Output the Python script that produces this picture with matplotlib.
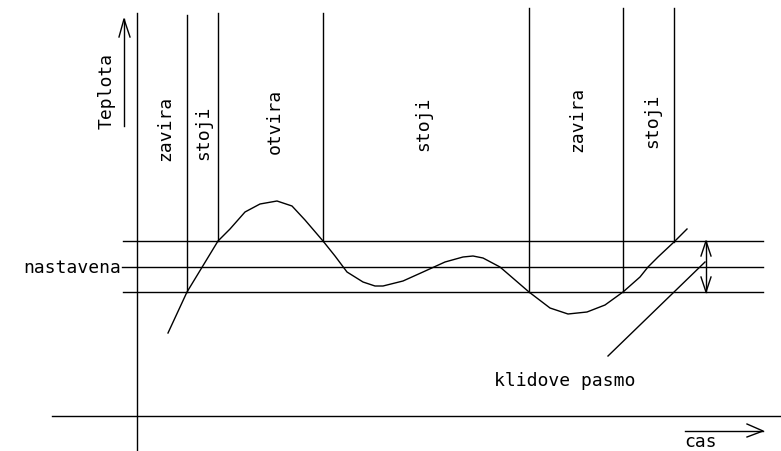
import matplotlib
matplotlib.use("Agg")
import matplotlib.pyplot as plt

# průběh teploty (souřadnice v obrázku, px)
curve_x = [168, 187, 218, 230, 245, 260, 277, 292, 305, 323, 335, 347, 363, 375,
           383, 403, 423, 445, 463, 473, 483, 500, 529, 550, 568, 587, 605, 623,
           640, 648, 658, 674, 687]
curve_y = [334, 293, 242, 230, 213, 205, 202, 207, 221, 242, 257, 273, 283, 287,
           287, 282, 273, 263, 258, 257, 259, 268, 293, 309, 315, 313, 306, 293,
           278, 268, 258, 243, 230]

# hranice úseků: x, horní a dolní konec
bound_x = [187, 218, 323, 529, 623, 674]
bound_top = [16, 14, 14, 9, 9, 9]
bound_bot = [293, 242, 242, 293, 293, 243]

# pásmo: horní mez, nastavená, dolní mez
band_y = [242, 268, 293]

state_labels = ["zavira", "stoji", "otvira", "stoji", "zavira", "stoji"]
state_x = [165, 203, 275, 423, 577, 652]
state_y = [128, 133, 121, 124, 119, 121]

fig = plt.figure(figsize=(7.81, 4.52), dpi=100)
ax = fig.add_axes([0, 0, 1, 1])
ax.set_xlim(0, 781)
ax.set_ylim(452, 0)
ax.axis("off")

lw = 1.0
k = "black"
font = dict(family="DejaVu Sans Mono", fontsize=13, color=k)

# osy
ax.plot([137, 137], [14, 452], color=k, lw=lw)
ax.plot([52, 781], [417, 417], color=k, lw=lw)

# hranice úseků
for x, t, b in zip(bound_x, bound_top, bound_bot):
    ax.plot([x, x], [t, b], color=k, lw=lw)

# vodorovné čáry pásma
ax.plot([123, 763], [band_y[0]] * 2, color=k, lw=lw)
ax.plot([122, 763], [band_y[1]] * 2, color=k, lw=lw)
ax.plot([123, 763], [band_y[2]] * 2, color=k, lw=lw)

# křivka
ax.plot(curve_x, curve_y, color=k, lw=lw)

# šipka pásma
ax.plot([706, 706], [band_y[0], band_y[2]], color=k, lw=lw)
ax.plot([701, 706, 711], [257, band_y[0], 257], color=k, lw=lw)
ax.plot([701, 706, 711], [278, band_y[2], 278], color=k, lw=lw)
ax.plot([608, 705], [357, 263], color=k, lw=lw)

# šipka osy y
ax.plot([124, 124], [127, 20], color=k, lw=lw)
ax.plot([119, 124, 130], [38, 20, 38], color=k, lw=lw)
# šipka osy x
ax.plot([685, 763], [432, 432], color=k, lw=lw)
ax.plot([747, 763, 747], [425, 432, 438], color=k, lw=lw)

# texty
ax.text(107, 91, "Teplota", rotation=90, ha="center", va="center", **font)
ax.text(121, 268, "nastavena", ha="right", va="center", **font)
ax.text(565, 381, "klidove pasmo", ha="center", va="center", **font)
ax.text(701, 442, "cas", ha="center", va="center", **font)
for lab, x, y in zip(state_labels, state_x, state_y):
    ax.text(x, y, lab, rotation=90, ha="center", va="center", **font)

fig.savefig("out.png", dpi=100)
